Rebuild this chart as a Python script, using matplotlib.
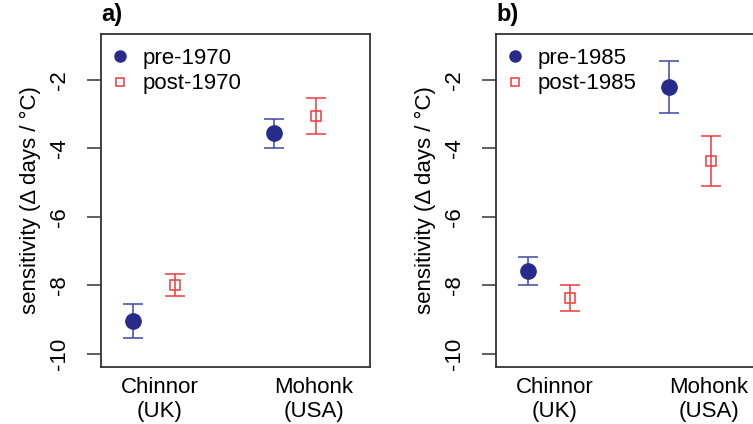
import matplotlib.pyplot as plt
from matplotlib.lines import Line2D

plt.rcParams['font.family'] = ['Liberation Sans', 'DejaVu Sans']

# data
sites = ["Chinnor\n(UK)", "Mohonk\n(USA)"]
a_pre = [-9.04, -3.56]
a_pre_err = [0.50, 0.43]
a_post = [-7.99, -3.05]
a_post_err = [0.33, 0.52]
b_pre = [-7.58, -2.21]
b_pre_err = [0.42, 0.77]
b_post = [-8.36, -4.37]
b_post_err = [0.38, 0.72]
yticks = [-10, -8, -6, -4, -2]

navy = '#272b8a'
navy_bar = '#3f47a3'
red = '#ef3a3a'
edge = '#333333'


def panel(ax, tag, pre, pre_err, post, post_err, year):
    xs = [1, 2]
    xpre = [x - 0.15 for x in xs]
    xpost = [x + 0.15 for x in xs]
    ax.errorbar(xpre, pre, yerr=pre_err, fmt='o', ms=11, color=navy,
                ecolor=navy_bar, elinewidth=1.1, capsize=7, capthick=1.1)
    ax.errorbar(xpost, post, yerr=post_err, fmt='s', ms=6.5, mfc='none',
                mec=red, mew=1.1, color=red, elinewidth=1.1, capsize=7,
                capthick=1.1)
    ax.set_xlim(0.624, 2.53)
    ax.set_ylim(-10.38, -0.66)
    ax.set_yticks(yticks)
    ax.set_yticklabels([str(t) for t in yticks], rotation=90, va='center')
    ax.set_xticks([1.04, 2.13])
    ax.set_xticklabels(sites, fontsize=16, linespacing=1.2)
    ax.tick_params(axis='x', length=0, pad=7)
    ax.tick_params(axis='y', length=10, width=1.1, color=edge,
                   labelsize=16, pad=12)
    for s in ax.spines.values():
        s.set_color(edge)
        s.set_linewidth(1.3)
    ax.set_ylabel('sensitivity (Δ days / °C)', fontsize=16, labelpad=6)
    ax.text(0.0, 1.024, tag, transform=ax.transAxes, fontsize=17,
            fontweight='bold', ha='left', va='bottom')
    handles = [
        Line2D([], [], ls='none', marker='o', ms=8, color=navy),
        Line2D([], [], ls='none', marker='s', ms=6, mfc='none', mec=red,
               mew=1.1),
    ]
    ax.legend(handles, ['pre-' + year, 'post-' + year], loc='upper left',
              bbox_to_anchor=(0.03, 0.965), frameon=False, fontsize=16,
              borderpad=0.1, borderaxespad=0, handlelength=0.8,
              handletextpad=0.6, labelspacing=0.2)


fig = plt.figure(figsize=(7.53, 4.24), dpi=100)
ax1 = fig.add_axes([0.1341, 0.1344, 0.3572, 0.7854])
ax2 = fig.add_axes([0.6587, 0.1344, 0.3572, 0.7854])

panel(ax1, 'a)', a_pre, a_pre_err, a_post, a_post_err, '1970')
panel(ax2, 'b)', b_pre, b_pre_err, b_post, b_post_err, '1985')

fig.savefig('out.png', dpi=100)
